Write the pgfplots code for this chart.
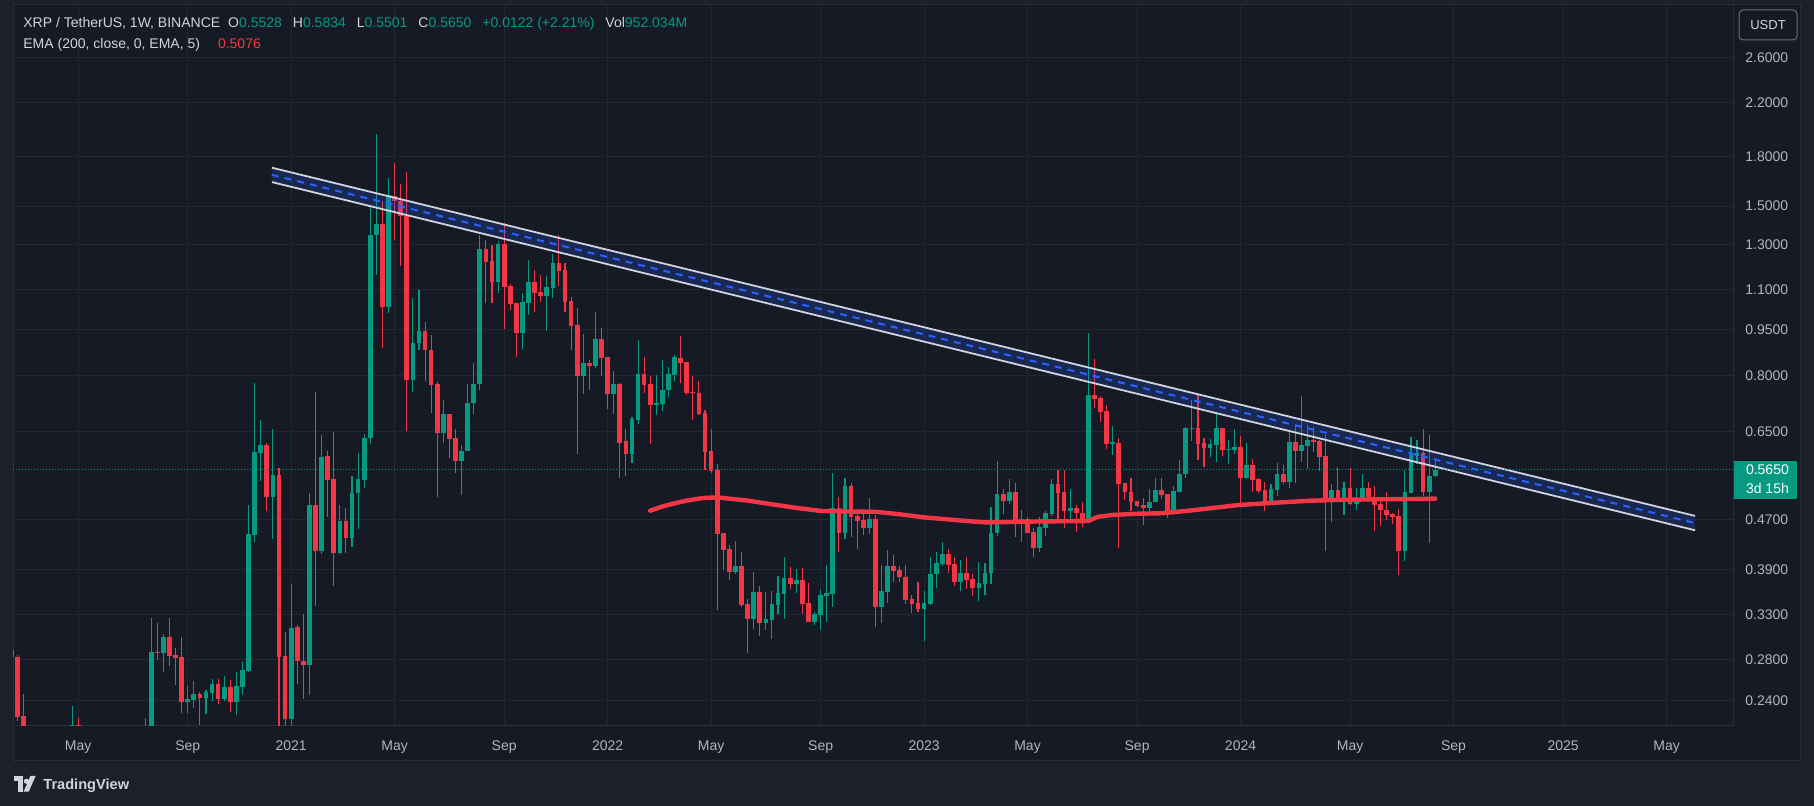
\documentclass[border=0pt]{standalone}
\usepackage{fontspec}
\setmainfont{Liberation Sans}
\usepackage{pgfplots}
\usepackage{pgfplotstable}
\pgfplotsset{compat=1.18}

\definecolor{outerbg}{HTML}{1E2029}
\definecolor{plotbg}{HTML}{161A25}
\definecolor{gridc}{HTML}{232733}
\definecolor{sepc}{HTML}{2A2E39}
\definecolor{txt}{HTML}{B2B5BE}
\definecolor{txthi}{HTML}{D1D4DC}
\definecolor{up}{HTML}{089981}
\definecolor{down}{HTML}{F23645}
\definecolor{chan}{HTML}{2962FF}

% weekly XRP/USDT candles, k = weeks since 24 Feb 2020
\pgfplotstableread{
k o h l c
-1 0.2897 0.2914 0.2815 0.2819
0 0.2819 0.2843 0.2229 0.2263
1 0.2268 0.2461 0.1900 0.2050
9 0.2000 0.2354 0.1900 0.2194
10 0.2194 0.2252 0.1900 0.2000
21 0.1900 0.2252 0.1800 0.2000
22 0.2000 0.3262 0.1950 0.2876
23 0.2876 0.3198 0.2792 0.2865
24 0.2865 0.3074 0.2671 0.3040
25 0.3040 0.3262 0.2731 0.2837
26 0.2844 0.2919 0.2548 0.2813
27 0.2823 0.3040 0.2297 0.2390
28 0.2390 0.2535 0.2297 0.2416
29 0.2407 0.2580 0.2337 0.2461
30 0.2461 0.2479 0.2194 0.2425
31 0.2425 0.2498 0.2285 0.2479
32 0.2471 0.2602 0.2398 0.2554
33 0.2554 0.2602 0.2372 0.2416
34 0.2416 0.2631 0.2398 0.2526
35 0.2526 0.2592 0.2303 0.2390
36 0.2390 0.2671 0.2277 0.2535
37 0.2526 0.2771 0.2452 0.2690
38 0.2680 0.4958 0.2671 0.4453
39 0.4437 0.7791 0.4323 0.6034
40 0.6011 0.6793 0.5419 0.6192
41 0.6192 0.6238 0.4849 0.5107
42 0.5107 0.6570 0.4371 0.5541
43 0.5541 0.5686 0.1700 0.2823
44 0.2833 0.3097 0.1700 0.2247
45 0.2247 0.3700 0.2100 0.3143
46 0.3154 0.3177 0.2552 0.2777
47 0.2786 0.3310 0.2414 0.2737
48 0.2737 0.5178 0.2449 0.4955
49 0.4955 0.7550 0.3408 0.4182
50 0.4182 0.6419 0.4134 0.5914
51 0.5940 0.6045 0.4743 0.5442
52 0.5457 0.6504 0.3667 0.4152
53 0.4152 0.4955 0.4134 0.4667
54 0.4667 0.4898 0.4152 0.4389
55 0.4389 0.5514 0.4244 0.5178
56 0.5178 0.6001 0.4539 0.5457
57 0.5442 0.6438 0.5284 0.6345
58 0.6345 1.5009 0.6206 1.3491
59 1.3491 1.9613 1.1621 1.4054
60 1.4054 1.5297 0.8867 1.0323
61 1.0323 1.6651 1.0114 1.5636
62 1.5591 1.7627 1.3217 1.5297
63 1.5297 1.6266 1.2019 1.4470
64 1.4470 1.7019 0.6523 0.7888
65 0.7888 1.0692 0.7550 0.9037
66 0.9037 1.0977 0.8803 0.9442
67 0.9442 0.9751 0.7843 0.8803
68 0.8803 0.9292 0.6966 0.7728
69 0.7752 0.7819 0.5110 0.6475
70 0.6465 0.7316 0.6246 0.6945
71 0.6945 0.6945 0.5908 0.6339
72 0.6350 0.6570 0.5589 0.5843
73 0.5843 0.6184 0.5151 0.6056
74 0.6050 0.7762 0.6050 0.7235
75 0.7235 0.8390 0.6950 0.7762
76 0.7762 1.3481 0.7591 1.2800
77 1.2800 1.3234 1.0492 1.2213
78 1.2240 1.2991 1.0492 1.1341
79 1.1341 1.3194 1.0888 1.3040
80 1.3040 1.4076 0.9528 1.1133
81 1.1160 1.1244 1.0223 1.0453
82 1.0479 1.0479 0.8589 0.9388
83 0.9388 1.0874 0.8848 1.0518
84 1.0492 1.2289 1.0035 1.1330
85 1.1330 1.1841 1.0148 1.0888
86 1.0915 1.1624 1.0531 1.0754
87 1.0754 1.1584 0.9458 1.1119
88 1.1092 1.2565 1.0688 1.2153
89 1.2153 1.3481 1.1174 1.1813
90 1.1841 1.2153 1.0135 1.0518
91 1.0550 1.0714 0.8815 0.9623
92 0.9660 1.0287 0.5996 0.8005
93 0.8005 0.9342 0.7489 0.8390
94 0.8390 0.8483 0.7590 0.8307
95 0.8307 1.0134 0.8246 0.9170
96 0.9170 0.9551 0.7995 0.8546
97 0.8572 0.8572 0.7075 0.7479
98 0.7479 0.8144 0.6945 0.7762
99 0.7762 0.7785 0.5479 0.6238
100 0.6284 0.6569 0.5520 0.5988
101 0.5988 0.6868 0.5792 0.6817
102 0.6800 0.9136 0.6692 0.8054
103 0.8054 0.8572 0.7507 0.7733
104 0.7762 0.7995 0.6214 0.7181
105 0.7181 0.8025 0.6919 0.7234
106 0.7210 0.8483 0.7022 0.7590
107 0.7580 0.8266 0.7396 0.8054
108 0.8025 0.8642 0.7848 0.8572
109 0.8546 0.9272 0.7785 0.8390
110 0.8415 0.8415 0.7451 0.7507
111 0.7535 0.7995 0.6792 0.7507
112 0.7507 0.7848 0.6919 0.6945
113 0.6971 0.7048 0.5644 0.6033
114 0.6060 0.6569 0.5575 0.5623
115 0.5644 0.5770 0.3359 0.4452
116 0.4470 0.4470 0.3896 0.4196
117 0.4212 0.4275 0.3755 0.3873
118 0.3873 0.4339 0.3839 0.3955
119 0.3955 0.4165 0.3393 0.3423
120 0.3433 0.3500 0.2869 0.3250
121 0.3250 0.3868 0.3131 0.3592
122 0.3592 0.3672 0.3051 0.3202
123 0.3202 0.3592 0.3120 0.3250
124 0.3240 0.3605 0.3018 0.3436
125 0.3423 0.3811 0.3311 0.3578
126 0.3565 0.4089 0.3250 0.3783
127 0.3783 0.3941 0.3632 0.3700
128 0.3700 0.3911 0.3578 0.3755
129 0.3755 0.3925 0.3311 0.3436
130 0.3446 0.3714 0.3214 0.3214
131 0.3214 0.3335 0.3179 0.3311
132 0.3300 0.3618 0.3120 0.3552
133 0.3545 0.3970 0.3214 0.3578
134 0.3565 0.5582 0.3398 0.4903
135 0.4903 0.5107 0.4165 0.4469
136 0.4469 0.5480 0.4371 0.5320
137 0.5320 0.5379 0.4403 0.4742
138 0.4760 0.4849 0.4212 0.4672
139 0.4690 0.4795 0.4436 0.4553
140 0.4553 0.5088 0.4449 0.4707
141 0.4707 0.4778 0.3159 0.3402
142 0.3402 0.3970 0.3206 0.3605
143 0.3597 0.4197 0.3453 0.3955
144 0.3955 0.4120 0.3727 0.3883
145 0.3894 0.3955 0.3727 0.3797
146 0.3797 0.3970 0.3436 0.3487
147 0.3497 0.3552 0.3327 0.3436
148 0.3446 0.3727 0.3337 0.3373
149 0.3373 0.3605 0.2996 0.3446
150 0.3436 0.4089 0.3426 0.3840
151 0.3833 0.4166 0.3645 0.3999
152 0.3992 0.4323 0.3955 0.4135
153 0.4135 0.4212 0.3854 0.3970
154 0.3992 0.4089 0.3672 0.3727
155 0.3727 0.4044 0.3605 0.3854
156 0.3854 0.4089 0.3632 0.3755
157 0.3766 0.3840 0.3539 0.3645
158 0.3645 0.4014 0.3474 0.3714
159 0.3703 0.3999 0.3552 0.3854
160 0.3847 0.4922 0.3703 0.4470
161 0.4465 0.5836 0.4420 0.5164
162 0.5164 0.5261 0.4796 0.5032
163 0.5032 0.5460 0.4976 0.5203
164 0.5203 0.5379 0.4404 0.4690
165 0.4627 0.4861 0.4328 0.4702
166 0.4702 0.4748 0.4466 0.4475
167 0.4490 0.4548 0.4094 0.4228
168 0.4228 0.4738 0.4171 0.4564
169 0.4560 0.4851 0.4426 0.4808
170 0.4800 0.5460 0.4757 0.5360
171 0.5360 0.5645 0.4708 0.5184
172 0.5200 0.5645 0.4560 0.4851
173 0.4851 0.5261 0.4702 0.4903
174 0.4903 0.4958 0.4490 0.4813
175 0.4820 0.5007 0.4576 0.4661
176 0.4661 0.9366 0.4633 0.7444
177 0.7444 0.8516 0.7094 0.7334
178 0.7360 0.7420 0.6752 0.7007
179 0.7020 0.7173 0.6109 0.6223
180 0.6223 0.6644 0.5975 0.6250
181 0.6236 0.6355 0.4233 0.5366
182 0.5380 0.5386 0.5045 0.5200
183 0.5211 0.5480 0.4855 0.5020
184 0.5030 0.5030 0.4930 0.4946
185 0.4965 0.5082 0.4598 0.4909
186 0.4909 0.5254 0.4838 0.5020
187 0.5010 0.5480 0.5010 0.5250
188 0.5250 0.5480 0.5064 0.5145
189 0.5163 0.5163 0.4729 0.4848
190 0.4848 0.5319 0.4776 0.5220
191 0.5209 0.5856 0.5209 0.5560
192 0.5555 0.6618 0.5478 0.6594
193 0.6570 0.7314 0.6284 0.6594
194 0.6594 0.7478 0.5856 0.6214
195 0.6230 0.6354 0.5706 0.6123
196 0.6123 0.6330 0.5921 0.6214
197 0.6197 0.6996 0.5813 0.6594
198 0.6594 0.6594 0.5943 0.6077
199 0.6077 0.6307 0.5770 0.6100
200 0.6077 0.6570 0.5987 0.6145
201 0.6145 0.6401 0.4994 0.5478
202 0.5478 0.6237 0.5458 0.5749
203 0.5749 0.5878 0.5209 0.5438
204 0.5458 0.5478 0.5185 0.5220
205 0.5241 0.5398 0.4848 0.5012
206 0.5012 0.5356 0.4976 0.5259
207 0.5241 0.5792 0.5125 0.5560
208 0.5560 0.5749 0.5356 0.5398
209 0.5398 0.6496 0.5279 0.6260
210 0.6260 0.6667 0.5385 0.6054
211 0.6054 0.7423 0.5813 0.6191
212 0.6180 0.6667 0.5664 0.6307
213 0.6307 0.6627 0.6040 0.6261
214 0.6280 0.6307 0.5630 0.5929
215 0.5940 0.6425 0.4186 0.5050
216 0.5040 0.5359 0.4660 0.5240
217 0.5240 0.5700 0.5040 0.5050
218 0.5055 0.5398 0.4777 0.5280
219 0.5280 0.5690 0.4966 0.4976
220 0.4976 0.5275 0.4866 0.5088
221 0.5070 0.5561 0.5050 0.5280
222 0.5280 0.5398 0.5050 0.5106
223 0.5115 0.5319 0.4502 0.4966
224 0.4976 0.5013 0.4586 0.4866
225 0.4875 0.5202 0.4689 0.4777
226 0.4789 0.4812 0.4620 0.4747
227 0.4757 0.4884 0.3829 0.4186
228 0.4186 0.5644 0.4033 0.5202
229 0.5192 0.6378 0.5192 0.5966
230 0.5950 0.6307 0.5778 0.6010
231 0.6010 0.6570 0.5125 0.5202
232 0.5202 0.6425 0.4306 0.5520
233 0.5528 0.5834 0.5501 0.5650
}\candles

% EMA(200)
\pgfplotstableread{
k v
104 0.4854
106 0.4930
108 0.4988
110 0.5040
112.7 0.5088
115 0.5100
117.5 0.5070
120 0.5040
124 0.4970
128 0.4905
132 0.4850
137 0.4838
141 0.4835
145 0.4790
149 0.4736
154 0.4690
159 0.4648
163 0.4655
168 0.4665
172 0.4668
176 0.4672
177.5 0.4745
180 0.4778
184 0.4800
188 0.4808
192.5 0.4854
200.7 0.4957
206 0.4995
212.4 0.5037
218 0.5055
224 0.5063
230 0.5070
233 0.5076
}\ema

\pgfplotstablegetrowsof{\candles}
\pgfmathtruncatemacro\lastrow{\pgfplotsretval-1}

\begin{document}
\begin{tikzpicture}[x=1pt,y=1pt]
\fill[outerbg] (0,0) rectangle (907,403);
\useasboundingbox (0,0) rectangle (907,403);
\fill[plotbg] (6.5,22.5) rectangle (900,400.5);
\draw[sepc, line width=0.5pt] (6.5,22.5) rectangle (900,400.5);

\begin{axis}[
  at={(6.5pt,40pt)}, anchor=south west,
  scale only axis, width=860pt, height=360.5pt,
  xmin=-0.707, xmax=281.92,
  ymode=log, ymin=0.21862, ymax=3.1611,
  axis line style={draw=sepc, line width=0.5pt},
  major tick length=0pt, minor tick length=0pt,
  grid=major, major grid style={draw=gridc, line width=0.5pt},
  xtick={10,28,45,62,80,97,114,132,149,166,184,201,219,236,254,271},
  xticklabels={May,Sep,2021,May,Sep,2022,May,Sep,2023,May,Sep,2024,May,Sep,2025,May},
  xticklabel style={font=\fontsize{7}{8}\selectfont, text=txt, anchor=base, inner sep=0pt, yshift=-12.3pt},
  ytick={0.24,0.28,0.33,0.39,0.47,0.65,0.8,0.95,1.1,1.3,1.5,1.8,2.2,2.6},
  yticklabels={0.2400,0.2800,0.3300,0.3900,0.4700,0.6500,0.8000,0.9500,1.1000,1.3000,1.5000,1.8000,2.2000,2.6000},
  yticklabel pos=right,
  yticklabel style={font=\fontsize{7}{8}\selectfont, text=txt, anchor=west, inner sep=0pt, xshift=6pt},
]
% candles: wick then body, coloured by direction
\pgfplotsforeachungrouped \row in {0,...,\lastrow}{
  \pgfplotstablegetelem{\row}{k}\of\candles \let\cK\pgfplotsretval
  \pgfplotstablegetelem{\row}{o}\of\candles \let\cO\pgfplotsretval
  \pgfplotstablegetelem{\row}{h}\of\candles \let\cH\pgfplotsretval
  \pgfplotstablegetelem{\row}{l}\of\candles \let\cL\pgfplotsretval
  \pgfplotstablegetelem{\row}{c}\of\candles \let\cC\pgfplotsretval
  \pgfmathtruncatemacro\isup{\cC>=\cO}
  \ifnum\isup=1 \def\ccol{up}\else\def\ccol{down}\fi
  \edef\candle{%
    \noexpand\addplot[\ccol, line width=0.55pt] coordinates {(\cK,\cL) (\cK,\cH)};
    \noexpand\addplot[\ccol, line width=2.35pt, line cap=butt] coordinates {(\cK,\cO) (\cK,\cC)};
  }%
  \candle
}

\addplot[down, line width=2.2pt, line cap=round, line join=round] table[x=k, y=v]{\ema};

% descending channel, straight on the log scale
\addplot[draw=none, fill=chan, fill opacity=0.2] coordinates {(41.84,1.7299) (275.7,0.4761) (275.7,0.4514) (41.84,1.6400)};
\addplot[txthi, line width=0.9pt] coordinates {(41.84,1.7299) (275.7,0.4761)};
\addplot[txthi, line width=0.9pt] coordinates {(41.84,1.6400) (275.7,0.4514)};
\addplot[chan, line width=1pt, dash pattern=on 3.5pt off 3pt] coordinates {(41.84,1.6844) (275.7,0.4636)};

% last price line
\addplot[up, line width=0.5pt, dash pattern=on 0.5pt off 1pt] coordinates {(-0.707,0.565) (281.92,0.565)};
\coordinate (pl) at (axis cs:281.92,0.565);
\end{axis}

% last price tag on the price scale
\fill[up] (pl) ++(0.5,4.5) rectangle ++(31.5,-19);
\path (pl) ++(6.3,-2.35) node[anchor=base west, inner sep=0pt, text=white, font=\fontsize{7}{8}\selectfont] {0.5650};
\path (pl) ++(6.3,-11.85) node[anchor=base west, inner sep=0pt, text=white, font=\fontsize{7}{8}\selectfont] {3d 15h};

% currency button
\draw[sepc!70!white, fill=plotbg, rounded corners=2pt, line width=0.5pt] (869.5,383) rectangle (898.5,398);
\node[text=txthi, font=\fontsize{6.5}{7}\selectfont, inner sep=0pt] at (884,390.5) {USDT};

% legend header
\node[anchor=base west, inner sep=0pt, text=txthi, font=\fontsize{7}{8}\selectfont] at (11.5,389.25)
  {XRP / TetherUS, 1W, BINANCE\hspace{4pt}O\textcolor{up}{0.5528}\hspace{5.5pt}H\textcolor{up}{0.5834}\hspace{5.5pt}L\textcolor{up}{0.5501}\hspace{5.5pt}C\textcolor{up}{0.5650}\hspace{5.5pt}\textcolor{up}{+0.0122 (+2.21\%)}\hspace{5.5pt}Vol\textcolor{up}{952.034M}};
\node[anchor=base west, inner sep=0pt, text=txthi, font=\fontsize{7}{8}\selectfont] at (11.5,378.75)
  {EMA (200, close, 0, EMA, 5)\hspace{9pt}\textcolor{down}{0.5076}};

% TradingView mark
\fill[txthi] (7,15) rectangle (11.4,12.6);
\fill[txthi] (9,15) rectangle (11.4,7.2);
\fill[txthi] (13.2,12.4) circle (1.3);
\fill[txthi] (15.2,15) -- (17.8,15) -- (14.4,7.2) -- (11.8,7.2) -- cycle;
\node[anchor=base west, inner sep=0pt, text=txthi, font=\bfseries\fontsize{7.3}{8}\selectfont] at (21.5,8.4) {TradingView};
\end{tikzpicture}
\end{document}
